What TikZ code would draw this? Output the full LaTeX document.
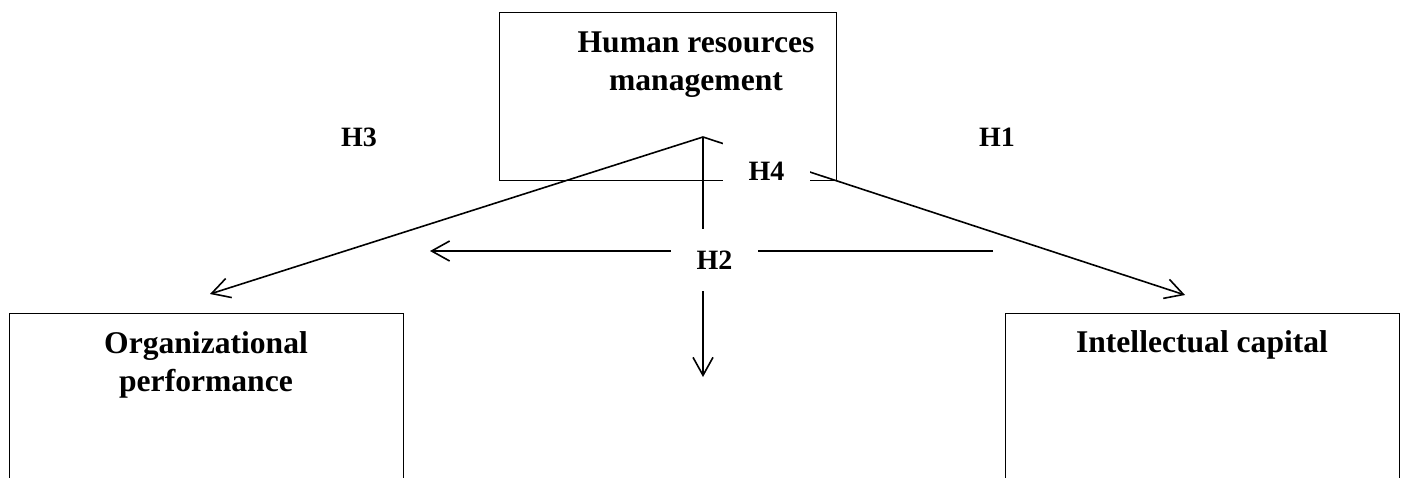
\documentclass[tikz,border=0pt]{standalone}
\usepackage{fontspec}
\setmainfont{Liberation Serif}
\usetikzlibrary{arrows.meta}
\begin{document}
\begin{tikzpicture}[x=0.5pt,y=-0.5pt,
  box/.style={draw, line width=0.6pt, inner sep=0pt, anchor=north west},
  title/.style={font=\fontsize{15.8}{19}\selectfont\bfseries, align=center, anchor=base, inner sep=0pt},
  hyp/.style={font=\fontsize{14}{16}\selectfont\bfseries},
  mask/.style={fill=white, minimum width=43.5pt, minimum height=31pt, inner sep=0pt},
  conn/.style={line width=0.8pt, -{Straight Barb[length=9pt,width=10pt,line width=0.8pt]}}]
\clip (0,0) rectangle (1401,477);
% boxes
\node[box, minimum width=168.5pt, minimum height=84pt] (hrm) at (499,12) {};
\node[box, minimum width=197pt, minimum height=95pt] (op) at (9,313) {};
\node[box, minimum width=197pt, minimum height=95pt] (ic) at (1005,313) {};
% box texts (base = baseline of last line)
\node[title] (hrmt) at (696,90) {Human resources\\management};
\node[title] (opt) at (206,391) {Organizational\\performance};
\node[title] (ict) at (1202,352) {Intellectual capital};
% connectors
\coordinate (apex) at (703,137);
\coordinate (opEnd) at (210,294);
\coordinate (icEnd) at (1185,295);
\coordinate (downEnd) at (703,377);
\coordinate (h2R) at (993,251);
\coordinate (h2L) at (430,251);
\draw[conn] (apex) -- (opEnd);
\draw[conn] (apex) -- (icEnd);
\draw[conn] (apex) -- (downEnd);
\draw[conn] (h2R) -- (h2L);
% labels
\node[hyp, mask] (h4) at (766.5,171) {H4};
\node[hyp, mask] (h2) at (714.5,260) {H2};
\node[hyp] (h3) at (359,137) {H3};
\node[hyp] (h1) at (997,137) {H1};
\end{tikzpicture}
\end{document}
